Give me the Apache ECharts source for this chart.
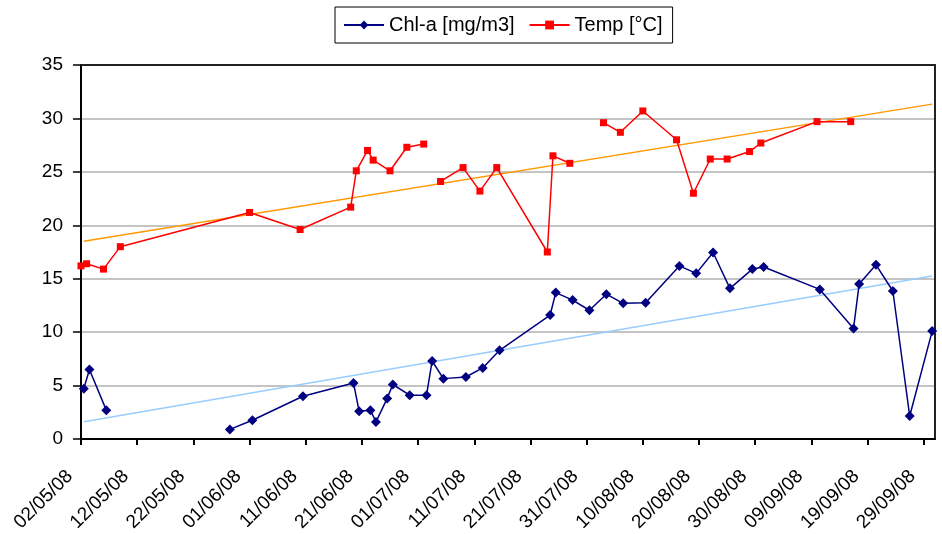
<!DOCTYPE html>
<html>
<head>
<meta charset="utf-8">
<script src="https://cdn.jsdelivr.net/npm/echarts@6/dist/echarts.min.js"></script>
<style>
  html, body { margin: 0; padding: 0; background: #ffffff; }
  #chart { width: 942px; height: 534px; }
</style>
</head>
<body>
<div id="chart"></div>
<script>
// Sampling campaign 2008: chlorophyll-a and water temperature
const axisStart = '2008-05-02';
const axisEnd = '2008-10-01';
const tickDays = [0, 10, 20, 30, 40, 50, 60, 70, 80, 90, 100, 110, 120, 130, 140, 150];
const yTicks = { min: 0, max: 35, step: 5 };

const chlName = 'Chl-a [mg/m3]';
const tempName = 'Temp [°C]';

// Chl-a samples (null = no measurement, the line breaks there)
const chlTimes = [
  '2008-05-02 12:00', '2008-05-03 12:00', '2008-05-06 12:00', '2008-05-09 12:00',
  '2008-05-28 12:00', '2008-06-01 12:00', '2008-06-10 12:00', '2008-06-19 12:00',
  '2008-06-20 12:00', '2008-06-22 12:00', '2008-06-23 12:00', '2008-06-25 12:00',
  '2008-06-26 12:00', '2008-06-29 12:00', '2008-07-02 12:00', '2008-07-03 12:00',
  '2008-07-05 12:00', '2008-07-09 12:00', '2008-07-12 12:00', '2008-07-15 12:00',
  '2008-07-24 12:00', '2008-07-25 12:00', '2008-07-28 12:00', '2008-07-31 12:00',
  '2008-08-03 12:00', '2008-08-06 12:00', '2008-08-10 12:00', '2008-08-16 12:00',
  '2008-08-19 12:00', '2008-08-22 12:00', '2008-08-25 12:00', '2008-08-29 12:00',
  '2008-08-31 12:00', '2008-09-10 12:00', '2008-09-16 12:00', '2008-09-17 12:00',
  '2008-09-20 12:00', '2008-09-23 12:00', '2008-09-26 12:00', '2008-09-30 12:00'
];
const chlValues = [
  4.7, 6.5, 2.7, null,
  0.9, 1.75, 4.0, 5.25,
  2.6, 2.7, 1.6, 3.8,
  5.1, 4.1, 4.1, 7.3,
  5.65, 5.8, 6.65, 8.3,
  11.6, 13.7, 13.0, 12.05,
  13.55, 12.7, 12.75, 16.2,
  15.5, 17.45, 14.1, 15.9,
  16.1, 14.0, 10.35, 14.5,
  16.3, 13.85, 2.15, 10.1
];

// Water temperature samples (null = no measurement)
const tempTimes = [
  '2008-05-02 00:00', '2008-05-03 00:00', '2008-05-06 00:00', '2008-05-09 00:00',
  '2008-06-01 00:00', '2008-06-10 00:00', '2008-06-19 00:00', '2008-06-20 00:00',
  '2008-06-22 00:00', '2008-06-23 00:00', '2008-06-26 00:00', '2008-06-29 00:00',
  '2008-07-02 00:00', '2008-07-03 00:00', '2008-07-05 00:00', '2008-07-09 00:00',
  '2008-07-12 00:00', '2008-07-15 00:00', '2008-07-24 00:00', '2008-07-25 00:00',
  '2008-07-28 00:00', '2008-07-31 00:00', '2008-08-03 00:00', '2008-08-06 00:00',
  '2008-08-10 00:00', '2008-08-16 00:00', '2008-08-19 00:00', '2008-08-22 00:00',
  '2008-08-25 00:00', '2008-08-29 00:00', '2008-08-31 00:00', '2008-09-10 00:00',
  '2008-09-16 00:00'
];
const tempValues = [
  16.2, 16.4, 15.9, 18.0,
  21.2, 19.6, 21.7, 25.1,
  27.0, 26.1, 25.1, 27.3,
  27.6, null, 24.1, 25.4,
  23.2, 25.4, 17.5, 26.5,
  25.8, null, 29.6, 28.7,
  30.7, 28.0, 23.0, 26.2,
  26.2, 26.9, 27.7, 29.7,
  29.7
];

// --- helpers ---------------------------------------------------------
const DAY_MS = 86400000;
function toUtc(s) {
  const [d, t = '00:00'] = s.split(' ');
  const [y, m, dd] = d.split('-').map(Number);
  const [hh, mm] = t.split(':').map(Number);
  return Date.UTC(y, m - 1, dd, hh, mm);
}
const t0 = toUtc(axisStart);
const dayOf = s => (toUtc(s) - t0) / DAY_MS;
const axisMax = dayOf(axisEnd);

function fmtDay(v) {
  const d = new Date(t0 + v * DAY_MS);
  const p = n => String(n).padStart(2, '0');
  return p(d.getUTCDate()) + '/' + p(d.getUTCMonth() + 1) + '/' + String(d.getUTCFullYear()).slice(2);
}

function pairs(times, values) {
  return times.map((t, i) => [dayOf(t), values[i]]);
}

// Least-squares linear trend over the measured points
function linearTrend(points, from, to) {
  const pts = points.filter(p => p[1] !== null);
  const n = pts.length;
  let sx = 0, sy = 0, sxx = 0, sxy = 0;
  pts.forEach(([x, y]) => { sx += x; sy += y; sxx += x * x; sxy += x * y; });
  const slope = (n * sxy - sx * sy) / (n * sxx - sx * sx);
  const icpt = (sy - slope * sx) / n;
  return [[from, icpt + slope * from], [to, icpt + slope * to]];
}

const chlData = pairs(chlTimes, chlValues);
const tempData = pairs(tempTimes, tempValues);
const spanFrom = dayOf(chlTimes[0]);
const spanTo = dayOf(chlTimes[chlTimes.length - 1]);

const FONT = '"Liberation Sans", Arial, sans-serif';

const chart = echarts.init(document.getElementById('chart'), null, { renderer: 'canvas' });
chart.setOption({
  animation: false,
  backgroundColor: '#ffffff',
  textStyle: { fontFamily: FONT },
  legend: {
    data: [chlName, tempName],
    left: 335,
    top: 7,
    orient: 'horizontal',
    backgroundColor: '#ffffff',
    borderColor: '#000000',
    borderWidth: 1,
    padding: [8, 10, 8, 8],
    itemWidth: 40,
    itemHeight: 11,
    itemGap: 14,
    textStyle: { fontSize: 20, color: '#000000', fontFamily: FONT }
  },
  grid: { left: 81, right: 7, top: 65, bottom: 95, containLabel: false, outerBoundsMode: 'none' },
  xAxis: [
    {
      type: 'value',
      min: 0,
      max: axisMax,
      position: 'bottom',
      axisLine: { show: true, onZero: false, lineStyle: { color: '#000000', width: 2 } },
      axisTick: { show: true, customValues: tickDays, length: 6, lineStyle: { color: '#000000', width: 2 } },
      axisLabel: {
        customValues: tickDays,
        rotate: 45,
        margin: 23,
        padding: [0, 16, 0, 0],
        fontSize: 19,
        color: '#000000',
        fontFamily: FONT,
        formatter: v => fmtDay(v)
      },
      splitLine: { show: false }
    },
    {
      type: 'value',
      min: 0,
      max: axisMax,
      position: 'top',
      axisLine: { show: true, onZero: false, lineStyle: { color: '#222222', width: 2 } },
      axisTick: { show: false },
      axisLabel: { show: false },
      splitLine: { show: false }
    }
  ],
  yAxis: [
    {
      type: 'value',
      min: yTicks.min,
      max: yTicks.max,
      interval: yTicks.step,
      position: 'left',
      axisLine: { show: true, onZero: false, lineStyle: { color: '#000000', width: 2 } },
      axisTick: { show: true, length: 8, lineStyle: { color: '#000000', width: 1.5 } },
      axisLabel: { margin: 18, fontSize: 19, color: '#000000', fontFamily: FONT },
      splitLine: { show: true, lineStyle: { color: '#c4c4c4', width: 2 } }
    },
    {
      type: 'value',
      min: yTicks.min,
      max: yTicks.max,
      interval: yTicks.step,
      position: 'right',
      axisLine: { show: true, onZero: false, lineStyle: { color: '#222222', width: 2 } },
      axisTick: { show: false },
      axisLabel: { show: false },
      splitLine: { show: false }
    }
  ],
  series: [
    {
      name: 'Temp trend',
      type: 'line',
      data: linearTrend(tempData, spanFrom, spanTo),
      symbol: 'none',
      lineStyle: { color: '#ff9900', width: 1.5 },
      silent: true,
      z: 1
    },
    {
      name: 'Chl-a trend',
      type: 'line',
      data: linearTrend(chlData, spanFrom, spanTo),
      symbol: 'none',
      lineStyle: { color: '#99ccff', width: 1.5 },
      silent: true,
      z: 1
    },
    {
      name: chlName,
      type: 'line',
      data: chlData,
      connectNulls: false,
      symbol: 'diamond',
      symbolSize: 10,
      itemStyle: { color: '#000080' },
      lineStyle: { color: '#000080', width: 1.5 },
      z: 3
    },
    {
      name: tempName,
      type: 'line',
      data: tempData,
      connectNulls: false,
      symbol: 'rect',
      symbolSize: 7,
      itemStyle: { color: '#ff0000' },
      lineStyle: { color: '#ff0000', width: 1.5 },
      z: 3
    }
  ]
});
</script>
</body>
</html>
